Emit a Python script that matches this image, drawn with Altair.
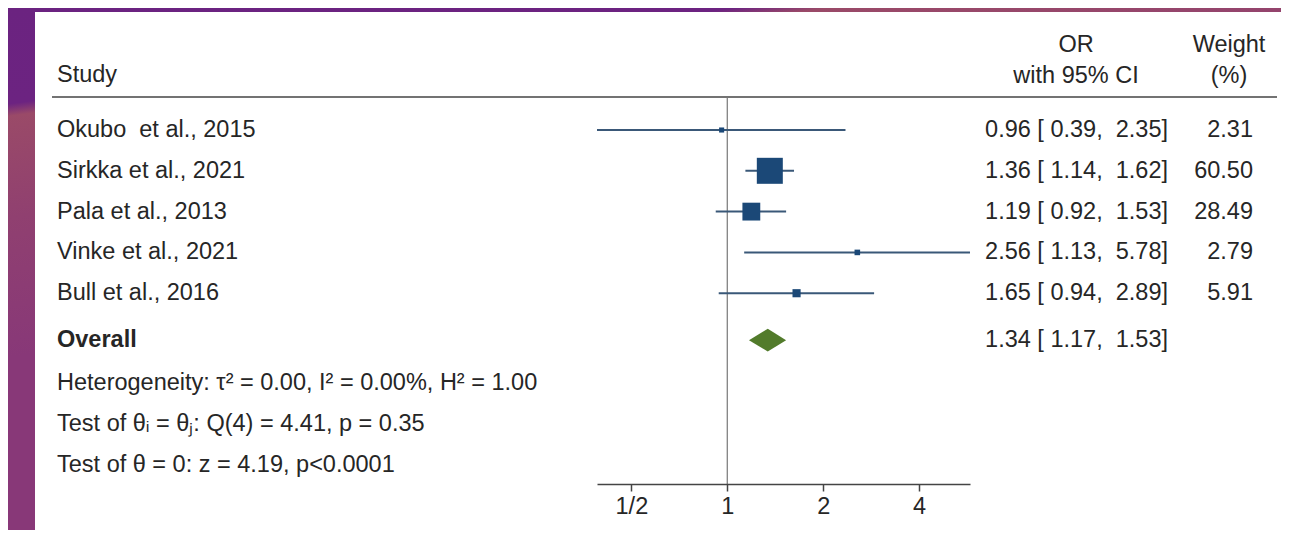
import altair as alt
import pandas as pd

# ---------------- data ----------------
studies = ["Okubo\u00a0 et al., 2015", "Sirkka et al., 2021", "Pala et al., 2013",
           "Vinke et al., 2021", "Bull et al., 2016"]
odds = [0.96, 1.36, 1.19, 2.56, 1.65]
ci_low = [0.39, 1.14, 0.92, 1.13, 0.94]
ci_high = [2.35, 1.62, 1.53, 5.78, 2.89]
weights = [2.31, 60.50, 28.49, 2.79, 5.91]
rows = [1, 2, 3, 4, 5]

overall_label = "Overall"
overall_or = 1.34
overall_low = 1.17
overall_high = 1.53
overall_row = 6.15

stats_lines = [
    "Heterogeneity: \u03c4\u00b2 = 0.00, I\u00b2 = 0.00%, H\u00b2 = 1.00",
    "Test of \u03b8\u1d62 = \u03b8\u2c7c: Q(4) = 4.41, p = 0.35",
    "Test of \u03b8 = 0: z = 4.19, p<0.0001",
]
stats_rows = [7.2, 8.2, 9.21]

tick_values = [0.5, 1, 2, 4]

# ---------------- layout / style ----------------
FONT = "Liberation Sans"
FS = 23.5
TXT = "#262626"
W, H = 373, 387
PAD = {"left": 589, "top": 89, "right": 311, "bottom": 46}

def fmt_ci(o, l, h):
    return f"{o:.2f} [\u00a0{l:.2f},\u00a0\u00a0{h:.2f}]"

df = pd.DataFrame({
    "study": studies, "or": odds, "lo": ci_low, "hi": ci_high,
    "w": weights, "row": rows,
})
df["ci_txt"] = [fmt_ci(o, l, h) for o, l, h in zip(odds, ci_low, ci_high)]
df["w_txt"] = [f"{w:.2f}" for w in weights]

xdom = [min(ci_low), max(ci_high)]
xscale = alt.Scale(type="log", domain=xdom, nice=False, zero=False)
yscale = alt.Scale(domain=[0.191, 9.676], reverse=True, nice=False, zero=False)

xaxis = alt.Axis(values=tick_values, title=None, grid=False, zindex=2,
                 labelExpr="datum.value == 0.5 ? '1/2' : datum.label",
                 labelFont=FONT, labelFontSize=FS, labelColor=TXT,
                 domainColor="#444", domainWidth=1.5, tickColor="#444",
                 tickWidth=1.5, tickSize=7, labelPadding=3, labelFlush=False)

one = pd.DataFrame({"a": [0]})

# background gradient + white panel
grad = alt.LinearGradient(
    gradient="linear", x1=0, y1=0, x2=0.195, y2=0.606,
    stops=[alt.GradientStop(color="#6b2380", offset=0),
           alt.GradientStop(color="#6c2381", offset=0.275),
           alt.GradientStop(color="#9a4a68", offset=0.31),
           alt.GradientStop(color="#904070", offset=0.6),
           alt.GradientStop(color="#883878", offset=1)])
bg = alt.Chart(one).mark_rect(color=grad).encode(
    x=alt.value(-PAD["left"]), x2=alt.value(W + PAD["right"]),
    y=alt.value(-PAD["top"]), y2=alt.value(H + PAD["bottom"]))
panel = alt.Chart(one).mark_rect(color="white").encode(
    x=alt.value(-562), x2=alt.value(W + PAD["right"]),
    y=alt.value(-85), y2=alt.value(H + PAD["bottom"]))

header_rule = alt.Chart(one).mark_rule(color="#444", strokeWidth=1.5).encode(
    x=alt.value(-545), x2=alt.value(680), y=alt.value(0))

ref_line = alt.Chart(pd.DataFrame({"x": [1.0]})).mark_rule(
    color="#777", strokeWidth=1.2).encode(
    x=alt.X("x:Q", scale=xscale, axis=xaxis),
    y=alt.value(0), y2=alt.value(H))

ci_rules = alt.Chart(df).mark_rule(color="#3a5878", strokeWidth=2).encode(
    x=alt.X("lo:Q", scale=xscale, axis=xaxis), x2="hi:Q",
    y=alt.Y("row:Q", scale=yscale, axis=None))

squares = alt.Chart(df).mark_square(color="#1b4877", opacity=1).encode(
    x=alt.X("or:Q", scale=xscale, axis=xaxis),
    y=alt.Y("row:Q", scale=yscale, axis=None),
    size=alt.Size("w:Q", scale=alt.Scale(type="linear", domain=[0, 60.5], range=[0, 676]),
                  legend=None))

half = 0.28
dia = pd.DataFrame({
    "x": [overall_low, overall_or, overall_high],
    "y": [overall_row, overall_row - half, overall_row],
    "y2": [overall_row, overall_row + half, overall_row],
})
diamond = alt.Chart(dia).mark_area(color="#527b2b", opacity=1).encode(
    x=alt.X("x:Q", scale=xscale, axis=xaxis),
    y=alt.Y("y:Q", scale=yscale, axis=None), y2="y2:Q")

def txt(data, field, x, align="left", weight="normal"):
    return alt.Chart(data).mark_text(
        font=FONT, fontSize=FS, color=TXT, align=align, baseline="middle",
        fontWeight=weight).encode(
        x=alt.value(x), y=alt.Y("row:Q", scale=yscale, axis=None),
        text=f"{field}:N")

study_txt = txt(df, "study", -540)
ci_txt = txt(df, "ci_txt", 571, align="right")
w_txt = txt(df, "w_txt", 656, align="right")

ov = pd.DataFrame({"row": [overall_row], "label": [overall_label],
                   "ci": [fmt_ci(overall_or, overall_low, overall_high)]})
ov_label = txt(ov, "label", -540, weight="bold")
ov_ci = txt(ov, "ci", 571, align="right")

st = pd.DataFrame({"row": stats_rows, "t": stats_lines})
stats_txt = txt(st, "t", -540)

headers = pd.DataFrame({
    "t": ["Study", "OR", "with 95% CI", "Weight", "(%)"],
    "px": [-540, 479, 479, 632, 632],
    "py": [-22, -52, -21, -52, -21],
    "al": ["left", "center", "center", "center", "center"],
})
head_layers = []
for _, r in headers.iterrows():
    head_layers.append(
        alt.Chart(one).mark_text(font=FONT, fontSize=FS, color=TXT, align=r["al"],
                                 baseline="middle", text=r["t"]).encode(
            x=alt.value(int(r["px"])), y=alt.value(int(r["py"]))))

chart = alt.layer(
    bg, panel, header_rule, ref_line, ci_rules, squares, diamond,
    study_txt, ci_txt, w_txt, ov_label, ov_ci, stats_txt, *head_layers
).properties(
    width=W, height=H, padding=PAD,
    autosize=alt.AutoSizeParams(type="none"),
    background="white",
).configure_view(stroke=None)

chart.save("out.html", embed_options={"renderer": "svg", "actions": False})
